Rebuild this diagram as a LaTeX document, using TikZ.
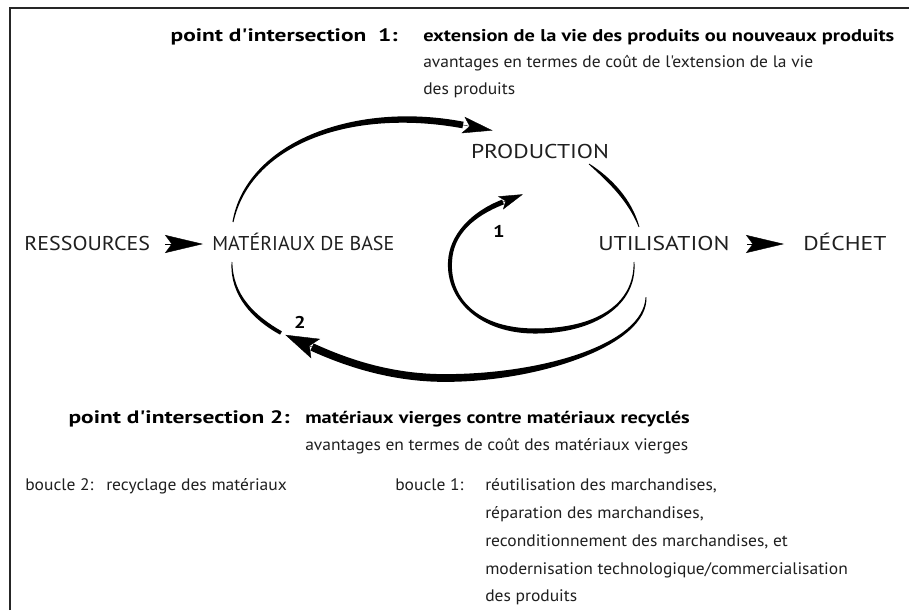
\documentclass[tikz,border=0pt]{standalone}
\usepackage{fontspec}
\setmainfont{PT Sans}
\newfontfamily\capsfont{PT Sans}[FakeStretch=1.18]
\newfontfamily\capsmid{PT Sans}[FakeStretch=1.1]
\newfontfamily\capsnarrow{PT Sans}[FakeStretch=1.0]
\newfontfamily\regfont{PT Sans}[FakeStretch=1.05]
\newfontfamily\boldfont{PT Sans}[FakeStretch=1.2]
\newfontfamily\labelfont{PT Sans}[FakeStretch=1.3]
\usetikzlibrary{calc,arrows.meta}
% tapered cubic stroke: #1..#4 control coordinates, #5 start half width,
% #6,#7 half widths near the controls, #8 end half width
\newcommand\tapercurve[8]{%
  \coordinate (tA) at ($(#1)!#5!90:(#2)$);
  \coordinate (tB) at ($(#1)!#5!-90:(#2)$);
  \coordinate (tC) at ($(#1)!#6!90:(#2)$);
  \coordinate (tD) at ($(#1)!#6!-90:(#2)$);
  \coordinate (tE) at ($(#4)!#7!-90:(#3)$);
  \coordinate (tF) at ($(#4)!#7!90:(#3)$);
  \coordinate (tG) at ($(#4)!#8!-90:(#3)$);
  \coordinate (tH) at ($(#4)!#8!90:(#3)$);
  \fill[inkcol] (tA) .. controls ($(#2)+(tC)-(#1)$) and ($(#3)+(tE)-(#4)$) .. (tG)
    -- (tH) .. controls ($(#3)+(tF)-(#4)$) and ($(#2)+(tD)-(#1)$) .. (tB) -- cycle;}
\begin{document}
\begin{tikzpicture}[x=0.75pt,y=-0.75pt,
  inkcol/.style={black},
  caps/.style={font=\capsfont\fontsize{15}{18}\selectfont, inner sep=0pt, text=black!88},
  capsm/.style={font=\capsmid\fontsize{15}{18}\selectfont, inner sep=0pt, text=black!88},
  capsn/.style={font=\capsnarrow\fontsize{15}{18}\selectfont, inner sep=0pt, text=black!88},
  txt/.style={font=\regfont\fontsize{12.5}{15}\selectfont, inner sep=0pt, text=black!88},
  btxt/.style={font=\boldfont\bfseries\fontsize{12.75}{15}\selectfont, inner sep=0pt, text=black},
  ltxt/.style={font=\labelfont\bfseries\fontsize{13.5}{16}\selectfont, inner sep=0pt, text=black},
  rowdart/.style={line width=0.3pt, -{Stealth[length=28.5pt,width=13.5pt,inset=5pt]}},
  headA/.style={line width=0.3pt, -{Stealth[length=22.5pt,width=12.5pt,inset=5pt]}},
  headB/.style={line width=0.3pt, -{Stealth[length=18pt,width=10.5pt,inset=4pt]}},
  headC/.style={line width=0.3pt, -{Stealth[length=25pt,width=16pt,inset=5pt]}},
  frame/.style={line width=1.5pt, draw=black!85}]
\useasboundingbox[fill=white] (0,0) rectangle (909,610);
\coordinate (fa) at (10,610);
\coordinate (fb) at (10,8);
\coordinate (fc) at (909,8);
\draw[frame] (fa) -- (fb) -- (fc);

% ---- top texts
\node[ltxt, anchor=base east] (pi1) at (398,41) {point d'intersection\ \ 1:};
\node[btxt, anchor=base west] (ex1) at (423,41) {extension de la vie des produits ou nouveaux produits};
\node[txt, anchor=base west] (av1) at (423,68) {avantages en termes de coût de l'extension de la vie};
\node[txt, anchor=base west] (dp1) at (423,94) {des produits};

% ---- cycle labels
\node[caps, anchor=base] (prod) at (540,158) {PRODUCTION};
\node[capsm, anchor=base west] (res) at (24,250) {RESSOURCES};
\node[capsn, anchor=base west] (mat) at (212,250) {MATÉRIAUX DE BASE};
\node[caps, anchor=base west] (util) at (598,250) {UTILISATION};
\node[caps, anchor=base west] (dech) at (803,250) {DÉCHET};
\node[btxt, anchor=base] (n1) at (499,237) {1};
\node[btxt, anchor=base] (n2) at (300,328) {2};

% ---- row darts
\coordinate (d1a) at (165,244); \coordinate (d1b) at (203,244);
\coordinate (d2a) at (747,244); \coordinate (d2b) at (784,244);
\draw[rowdart] (d1a) -- (d1b);
\draw[rowdart] (d2a) -- (d2b);

% ---- top arc: materiaux -> production
\coordinate (a0) at (233,222); \coordinate (a1) at (248,145);
\coordinate (a2) at (350,104); \coordinate (a3) at (463,125);
\tapercurve{a0}{a1}{a2}{a3}{0.4pt}{1.9pt}{2.8pt}{2.5pt}
\coordinate (aT) at ($(a3)!-22.5pt!(a2)$);
\draw[headA] (a3) -- (aT);

% ---- production -> utilisation
\coordinate (b0) at (589,164); \coordinate (b1) at (610,180);
\coordinate (b2) at (630,200); \coordinate (b3) at (639,227);
\tapercurve{b0}{b1}{b2}{b3}{0.3pt}{2.0pt}{1.5pt}{0.3pt}

% ---- loop 1
\coordinate (c0) at (634,262); \coordinate (c1) at (636,305);
\coordinate (c2) at (595,331); \coordinate (c3) at (535,331);
\coordinate (c4) at (480,331); \coordinate (c5) at (448,300);
\coordinate (c6) at (450,262); \coordinate (c7) at (451,235);
\coordinate (c8) at (472,214); \coordinate (c9) at (503,202);
\tapercurve{c0}{c1}{c2}{c3}{0.3pt}{1.2pt}{1.9pt}{1.9pt}
\tapercurve{c3}{c4}{c5}{c6}{1.9pt}{1.9pt}{1.5pt}{1.5pt}
\tapercurve{c6}{c7}{c8}{c9}{1.5pt}{1.5pt}{1.9pt}{1.9pt}
\coordinate (cT) at ($(c9)!-16pt!(c8)$);
\draw[headB] (c9) -- (cT);

% ---- loop 2
\coordinate (e0) at (646,297); \coordinate (e1) at (646,345);
\coordinate (e2) at (540,378); \coordinate (e3) at (445,378);
\coordinate (e4) at (390,378); \coordinate (e5) at (345,362);
\coordinate (e6) at (312,347);
\tapercurve{e0}{e1}{e2}{e3}{0.3pt}{2.0pt}{2.9pt}{2.9pt}
\tapercurve{e3}{e4}{e5}{e6}{2.9pt}{2.9pt}{2.9pt}{2.9pt}
\coordinate (eT) at ($(e6)!-22pt!(e5)$);
\draw[headC] (e6) -- (eT);

% ---- lower left arc (towards materiaux)
\coordinate (g0) at (232,262); \coordinate (g1) at (231,295);
\coordinate (g2) at (254,318); \coordinate (g3) at (281,333);
\tapercurve{g0}{g1}{g2}{g3}{0.3pt}{1.2pt}{1.7pt}{1.4pt}

% ---- bottom texts
\node[ltxt, anchor=base east] (pi2) at (290,423) {point d'intersection 2:};
\node[btxt, anchor=base west] (mv2) at (305,423) {matériaux vierges contre matériaux recyclés};
\node[txt, anchor=base west] (av2) at (305,450) {avantages en termes de coût des matériaux vierges};
\node[txt, anchor=base west] (bo2) at (25,490) {boucle 2:};
\node[txt, anchor=base west] (re2) at (106,490) {recyclage des matériaux};
\node[txt, anchor=base west] (bo1) at (395,490) {boucle 1:};
\node[txt, anchor=base west] (l1) at (485,490) {réutilisation des marchandises,};
\node[txt, anchor=base west] (l2) at (485,518) {réparation des marchandises,};
\node[txt, anchor=base west] (l3) at (485,546) {reconditionnement des marchandises, et};
\node[txt, anchor=base west] (l4) at (485,574) {modernisation technologique/commercialisation};
\node[txt, anchor=base west] (l5) at (485,601) {des produits};
\end{tikzpicture}
\end{document}
